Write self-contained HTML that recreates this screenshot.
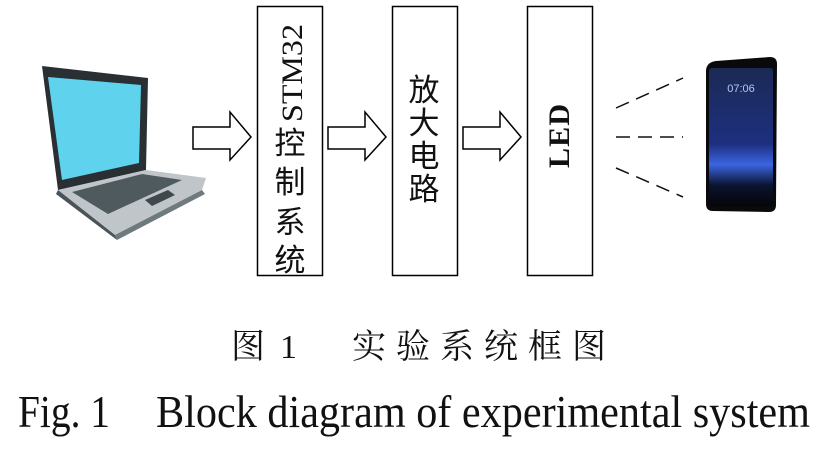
<!DOCTYPE html>
<html><head><meta charset="utf-8"><style>
html,body{margin:0;padding:0;background:#fff;}
svg{display:block;}
</style></head><body>
<svg width="826" height="452" viewBox="0 0 826 452" xmlns="http://www.w3.org/2000/svg">
<rect width="826" height="452" fill="#fff"/>
<!-- laptop -->
<polygon points="42,66 148,78 146,170 58,190" fill="#2a2f33"/>
<polygon points="48,77 141,85 139,163 62,180" fill="#5fd3ee"/>
<polygon points="58,190 146,170 206,178 202,190 115,235" fill="#bfc5c8"/>
<polygon points="58,190 115,235 117,240 56,194" fill="#4a5357"/>
<polygon points="115,235 202,190 205,194 117,240" fill="#6f7a7e"/>
<polygon points="72,192 142,174 182,180 108,214" fill="#4f5a5e"/>
<polygon points="145,200 168,190 175,195 152,206" fill="#3f484c"/>
<!-- boxes -->
<rect x="257.5" y="6.5" width="65" height="269" fill="none" stroke="#000" stroke-width="1.5"/>
<rect x="392.5" y="6.5" width="65" height="269" fill="none" stroke="#000" stroke-width="1.5"/>
<rect x="527.5" y="6.5" width="65" height="269" fill="none" stroke="#000" stroke-width="1.5"/>
<!-- arrows -->
<g fill="#fff" stroke="#000" stroke-width="1.5">
<polygon points="193,127 230,127 230,112 251,137 230,160 230,149 193,149"/>
<polygon points="328,127 365,127 365,112 386,137 365,160 365,149 328,149"/>
<polygon points="463,127 500,127 500,112 521,137 500,160 500,149 463,149"/>
</g>
<!-- texts -->
<text transform="translate(302,122) rotate(-90)" font-family="Liberation Serif, serif" font-size="30" fill="#111" textLength="98" lengthAdjust="spacingAndGlyphs">STM32</text>
<g font-family="Liberation Sans, 'Noto Sans CJK SC', sans-serif" font-size="31" text-anchor="middle" fill="#111">
<text x="290" y="154">控</text>
<text x="290" y="193">制</text>
<text x="290" y="233">系</text>
<text x="290" y="271">统</text>
<text x="424" y="101">放</text>
<text x="424" y="134">大</text>
<text x="424" y="167">电</text>
<text x="424" y="200">路</text>
</g>
<text transform="translate(569,168) rotate(-90)" font-family="Liberation Serif, serif" font-size="30" font-weight="bold" fill="#111" textLength="64">LED</text>
<!-- dashes -->
<g stroke="#111" stroke-width="1.5" stroke-dasharray="14,8">
<line x1="616" y1="108" x2="683" y2="78"/>
<line x1="616" y1="137" x2="683" y2="137"/>
<line x1="616" y1="168" x2="683" y2="197"/>
</g>
<!-- phone -->
<defs><linearGradient id="ph" x1="0" y1="0" x2="0" y2="1">
<stop offset="0" stop-color="#1c2a55"/><stop offset="0.55" stop-color="#1d2f80"/><stop offset="0.7" stop-color="#3a66e0"/><stop offset="0.85" stop-color="#0b1330"/><stop offset="1" stop-color="#050608"/></linearGradient></defs>
<path d="M706,70 Q707,62 716,61 L770,57 Q777,57 777,64 L776,205 Q776,212 769,212 L713,211 Q706,211 706,204 Z" fill="#0a0a0c"/>
<rect x="709" y="68" width="64" height="138" rx="3" fill="url(#ph)"/>
<text x="741" y="92" font-family="Liberation Sans, sans-serif" font-size="11" fill="#bcc6ee" text-anchor="middle">07:06</text>
<!-- captions -->
<g font-family="Liberation Serif, 'Noto Serif CJK SC', serif" font-size="34" fill="#111">
<text x="231" y="358">图</text>
<text x="280" y="358">1</text>
<text x="352" y="358" textLength="254">实验系统框图</text>
</g>
<g font-family="Liberation Serif, serif" font-size="46" fill="#111">
<text x="18" y="427" textLength="92" lengthAdjust="spacingAndGlyphs">Fig. 1</text>
<text x="156" y="427" textLength="654" lengthAdjust="spacingAndGlyphs">Block diagram of experimental system</text>
</g>
</svg>
</body></html>
